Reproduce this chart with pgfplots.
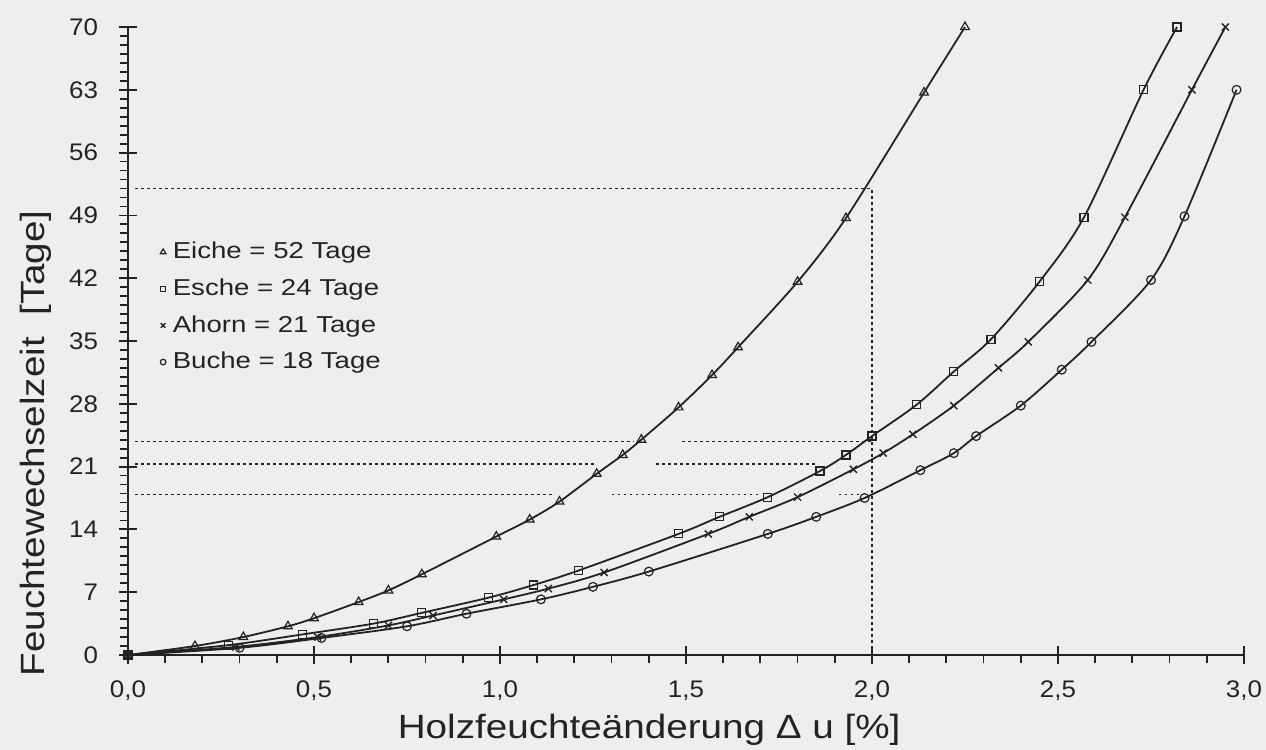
\documentclass[border=0pt]{standalone}
\usepackage{fontspec}
\setmainfont[FakeStretch=1.08]{Liberation Sans}
\newfontfamily\labfont[FakeStretch=1.15]{Liberation Sans}
\newfontfamily\legfont[FakeStretch=1.2]{Liberation Sans}
\usepackage{pgfplots}
\pgfplotsset{compat=1.18}
\definecolor{bg}{RGB}{236,238,240}
\definecolor{ink}{RGB}{35,35,35}
\pgfplotsset{
  common/.style={
    scale only axis, width=558pt, height=314pt,
    xmin=0, xmax=3, ymin=0, ymax=70,
    axis lines*=left,
    axis line style={ink, line width=1pt},
    xtick={0,0.5,1,1.5,2,2.5,3},
    ytick={0,7,14,21,28,35,42,49,56,63,70},
    tick style={ink, line width=0.9pt},
    clip=false,
  },
  refline/.style={forget plot, ink, line width=0.65pt, dash pattern=on 1.4pt off 1.6pt},
  curve/.style={forget plot, ink, line width=0.9pt, smooth, tension=0.5},
}
\begin{document}
\begin{tikzpicture}
\fill[bg] (-64pt,-47.5pt) rectangle (569pt,327.5pt);
\path[use as bounding box] (-64pt,-47.5pt) rectangle (569pt,327.5pt);
% minor ticks (outside)
\begin{axis}[common,
  minor x tick num=4, minor y tick num=6,
  tick align=outside, major tick length=0pt, minor tick length=4pt,
  xticklabels={}, yticklabels={}]
\end{axis}
\begin{axis}[common,
  tick align=center, major tick length=9pt,
  /pgf/number format/assume math mode=true,
  ticklabel style={font=\fontsize{12}{14}\selectfont, text=ink},
  xticklabels={{0,0},{0,5},{1,0},{1,5},{2,0},{2,5},{3,0}},
  xticklabel style={yshift=-5pt},
  yticklabel style={xshift=-7pt},
  xlabel={Holzfeuchteänderung Δ u [\%]},
  xlabel style={font=\labfont\fontsize{16.8}{19}\selectfont, text=ink, at={(axis description cs:0.467,0)}, anchor=center, yshift=-37.5pt},
  ylabel={Feuchtewechselzeit\ \ [Tage]},
  ylabel style={font=\labfont\fontsize{16.8}{19}\selectfont, text=ink, at={(axis description cs:0,0.337)}, anchor=center, yshift=46pt},
  legend style={at={(axis cs:0.075,46.5)}, anchor=north west, draw=none, fill=none,
     font=\legfont\fontsize{11.5}{13}\selectfont, text=ink, row sep=4.5pt, inner sep=0pt},
  legend cell align=left,
  legend image code/.code={\path[draw=none, fill=none] (0cm,0cm) -- (0.22cm,0cm); \draw[#1] plot coordinates {(0.12cm,0cm)};},
]
\addlegendimage{only marks, ink, mark=triangle, mark size=1.6pt, mark options={line width=0.6pt}}
\addlegendimage{only marks, ink, mark=square, mark size=1.3pt, mark options={line width=0.6pt}}
\addlegendimage{only marks, ink, mark=x, mark size=1.6pt, mark options={line width=0.7pt}}
\addlegendimage{only marks, ink, mark=o, mark size=1.4pt, mark options={line width=0.6pt}}

% dotted reference lines
\addplot[refline] coordinates {(0.02,52) (2.0,52)};
\addplot[refline] coordinates {(2.0,0) (2.0,52)};
\addplot[refline] coordinates {(0.02,23.8) (1.36,23.8)};
\addplot[refline] coordinates {(1.49,23.8) (2.0,23.8)};
\addplot[refline] coordinates {(0.02,21.3) (1.26,21.3)};
\addplot[refline] coordinates {(1.42,21.3) (1.855,21.3)};
\addplot[refline] coordinates {(0.02,17.9) (1.14,17.9)};
\addplot[refline] coordinates {(1.30,17.9) (1.70,17.9)};
\addplot[refline] coordinates {(1.91,17.9) (1.97,17.9)};

% Eiche
\addplot[curve, mark=triangle, mark size=2.5pt, mark options={solid, fill=bg, line width=0.6pt}] coordinates {
(0,0) (0.18,1.0) (0.31,2.0) (0.43,3.2) (0.50,4.1) (0.62,5.9) (0.70,7.2) (0.79,9.0) (0.99,13.2) (1.08,15.1) (1.16,17.1) (1.26,20.2) (1.33,22.3) (1.38,24.0) (1.48,27.6) (1.57,31.2) (1.64,34.3) (1.80,41.6) (1.93,48.7) (2.14,62.7) (2.25,70)};
% Esche
\addplot[curve, mark=square, mark size=2.0pt, mark options={solid, fill=bg, line width=0.6pt}] coordinates {
(0,0) (0.27,1.1) (0.47,2.3) (0.66,3.5) (0.79,4.7) (0.97,6.4) (1.09,7.8) (1.21,9.4) (1.48,13.5) (1.59,15.4) (1.72,17.6) (1.86,20.5) (1.93,22.3) (2.00,24.4) (2.12,27.9) (2.22,31.6) (2.32,35.2) (2.45,41.6) (2.57,48.8) (2.73,63.0) (2.82,70)};
% Ahorn
\addplot[curve, mark=x, mark size=2.5pt, mark options={solid, line width=0.7pt}] coordinates {
(0,0) (0.29,0.9) (0.51,2.0) (0.70,3.3) (0.82,4.4) (1.01,6.2) (1.13,7.4) (1.28,9.2) (1.56,13.5) (1.67,15.4) (1.80,17.6) (1.95,20.7) (2.03,22.5) (2.11,24.6) (2.22,27.8) (2.34,32.0) (2.42,34.9) (2.58,41.8) (2.68,48.8) (2.86,63.0) (2.95,70)};
% Buche
\addplot[curve, mark=o, mark size=2.2pt, mark options={solid, fill=bg, line width=0.6pt}] coordinates {
(0,0) (0.30,0.8) (0.52,1.9) (0.75,3.2) (0.91,4.6) (1.11,6.2) (1.25,7.6) (1.40,9.3) (1.72,13.5) (1.85,15.4) (1.98,17.5) (2.13,20.6) (2.22,22.5) (2.28,24.4) (2.40,27.8) (2.51,31.8) (2.59,34.9) (2.75,41.8) (2.84,48.9) (2.98,63.0)};

\legend{Eiche = 52 Tage, Esche = 24 Tage, Ahorn = 21 Tage, Buche = 18 Tage}
\end{axis}
\end{tikzpicture}
\end{document}
